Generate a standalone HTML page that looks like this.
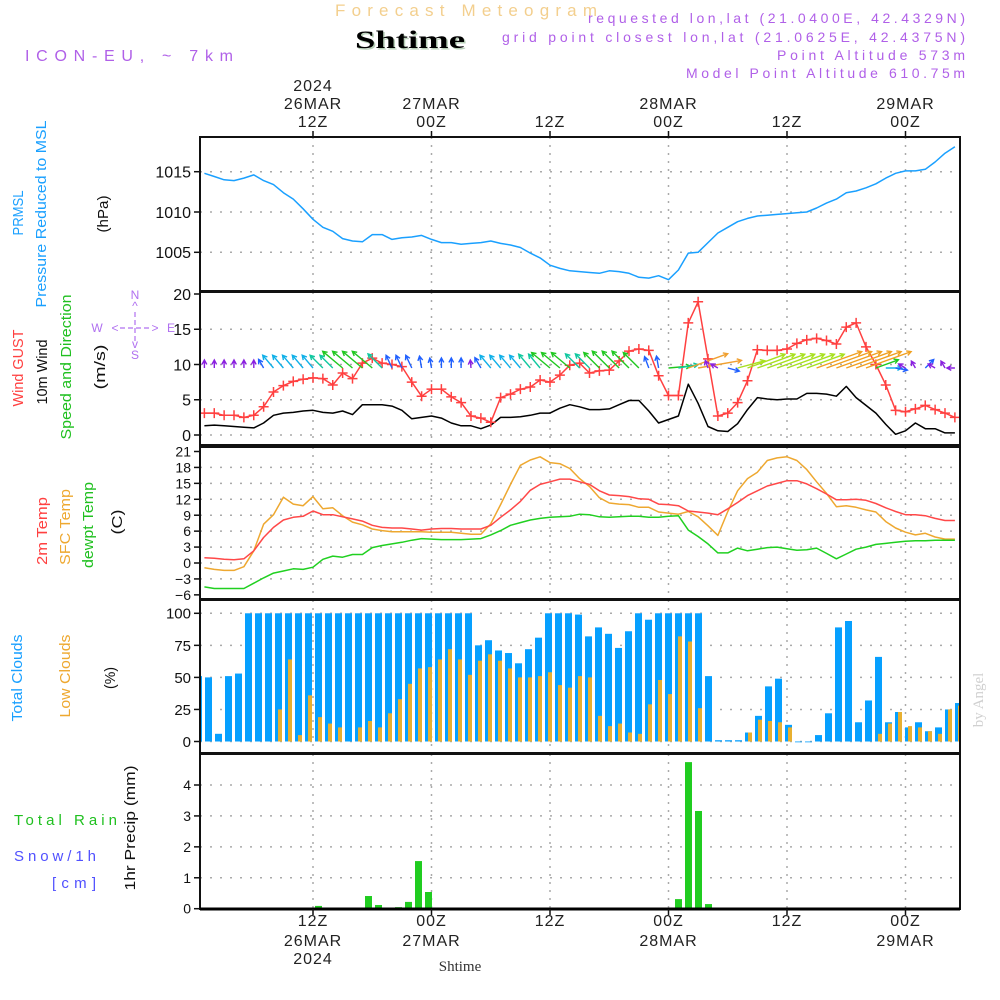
<!DOCTYPE html>
<html><head><meta charset="utf-8"><title>Forecast Meteogram - Shtime</title>
<style>
html,body{margin:0;padding:0;background:#fff;}
svg{display:block;font-family:"Liberation Sans",sans-serif;}
</style></head>
<body>
<svg id="chart" width="1000" height="1000" viewBox="0 0 1000 1000" xmlns="http://www.w3.org/2000/svg">
<rect x="0" y="0" width="1000" height="1000" fill="#fff"/>
<text x="335" y="16" font-size="17" fill="#f3cf8e" textLength="262" lengthAdjust="spacing">Forecast Meteogram</text>
<text x="355" y="48" font-size="25" font-weight="bold" font-family="Liberation Serif,serif" fill="#b8d0b8" textLength="110" lengthAdjust="spacingAndGlyphs" transform="translate(1.5,1.5)">Shtime</text>
<text x="355" y="48" font-size="25" font-weight="bold" font-family="Liberation Serif,serif" fill="#000" textLength="110" lengthAdjust="spacingAndGlyphs">Shtime</text>
<text x="25" y="61" font-size="16" fill="#b060e8" textLength="208" lengthAdjust="spacing">ICON-EU, ~ 7km</text>
<g font-size="14" fill="#b060e8" text-anchor="end">
<text x="965" y="23" textLength="377" lengthAdjust="spacing">requested lon,lat (21.0400E, 42.4329N)</text>
<text x="965" y="42" textLength="463" lengthAdjust="spacing">grid point closest lon,lat (21.0625E, 42.4375N)</text>
<text x="965" y="60" textLength="188" lengthAdjust="spacing">Point Altitude 573m</text>
<text x="965" y="78" textLength="279" lengthAdjust="spacing">Model Point Altitude 610.75m</text>
</g>
<text transform="translate(983,700) rotate(-90)" text-anchor="middle" font-size="15" font-family="Liberation Serif,serif" fill="#d0d0d0">by Angel</text>
<g id="grid"></g>
<g id="marks"></g>
<g id="frames"></g>
<g id="labels"></g>
</svg>
<script>
// ---------- data ----------
var hours = [];
for (var k = 1; k <= 77; k++) hours.push(k);
var pressure = [1014.8,1014.4,1014.0,1013.9,1014.2,1014.6,1013.9,1013.4,1012.4,1011.6,1010.4,1009.1,1008.1,1007.6,1006.7,1006.4,1006.3,1007.2,1007.2,1006.6,1006.8,1006.9,1007.1,1006.6,1006.2,1006.2,1006.0,1006.1,1006.2,1006.4,1006.1,1005.9,1005.6,1004.9,1004.3,1003.4,1003.0,1002.7,1002.6,1002.5,1002.4,1002.7,1002.6,1002.4,1001.9,1001.8,1002.1,1001.6,1002.8,1004.9,1005.0,1006.2,1007.4,1008.1,1008.8,1009.2,1009.5,1009.6,1009.7,1009.8,1009.9,1010.0,1010.5,1011.1,1011.6,1012.4,1012.6,1013.0,1013.5,1014.2,1014.8,1015.1,1015.1,1015.3,1016.2,1017.3,1018.1];
var gust = [3.1,3.1,2.8,2.8,2.5,2.8,4.0,6.1,7.0,7.6,7.9,8.1,8.0,7.1,8.8,8.0,10.2,10.9,10.2,10.0,9.7,7.5,5.5,6.5,6.5,5.4,4.6,2.7,2.4,1.8,5.3,5.8,6.5,6.8,7.8,7.5,8.5,9.9,10.2,8.8,9.1,9.2,10.5,11.9,12.2,12.0,8.4,5.6,5.6,15.9,18.9,10.8,2.7,3.1,4.6,7.7,12.1,12.0,12.0,12.2,13.0,13.5,13.7,13.4,12.9,15.3,15.9,12.5,10.0,7.1,3.5,3.3,3.7,4.2,3.6,3.1,2.5];
var wind10m = [1.3,1.4,1.3,1.2,1.1,1.0,1.7,2.8,3.1,3.2,3.4,3.5,3.2,3.1,3.4,2.9,4.3,4.3,4.3,4.1,3.5,2.3,2.5,2.7,2.4,1.7,1.3,1.3,0.9,1.4,2.5,2.5,2.6,2.8,3.1,3.1,3.8,4.3,4.0,3.6,3.6,3.7,4.3,4.9,4.9,3.4,1.7,2.2,2.7,7.2,4.5,1.2,0.6,0.5,1.6,3.6,5.3,5.1,5.0,5.1,5.1,5.9,5.9,5.8,5.5,6.9,5.3,4.2,3.1,1.5,0.1,0.6,1.7,0.9,0.9,0.3,0.3];
// arrow direction (degrees, 0 = pointing east, 90 = pointing north) and arrow length (m/s)
var windDir = [90,90,90,90,90,90,120,130,130,130,130,130,135,135,140,140,140,140,135,115,115,115,100,100,90,90,90,95,120,130,130,130,130,130,130,140,140,140,135,135,135,135,135,135,135,110,100,5,10,20,10,110,150,-15,15,20,20,20,20,20,20,20,20,20,20,20,20,20,20,0,-10,150,120,45,150,120,180];
var windLen = [1.3,1.3,1.3,1.3,1.3,1.3,2.5,4.2,4.2,4.2,4.2,4.2,4.5,4.5,6.5,6.5,6.5,6.5,5,3.5,3.5,3.5,3,2.5,2.5,2.5,2.5,1.5,3,4.2,4.2,4.2,4.2,4.5,4.5,6,6,6,5,5,5.5,6,6,6,5.5,3,3,5.5,5,10.5,11,1.5,1.5,3,7,10,10,10,10,10,10,10,12,12,12,12,12,12,6,4,3,1.5,1.5,3,1.5,1.5,1.5];
var temp2m = [1.0,0.9,0.7,0.6,0.8,2.3,4.8,6.7,8.1,8.6,8.8,9.8,9.1,9.1,8.7,8.3,7.9,7.1,6.7,6.6,6.6,6.4,6.2,6.4,6.5,6.5,6.4,6.4,6.4,7.1,8.6,10.0,11.6,13.7,14.8,15.3,15.8,15.8,15.3,14.8,13.6,12.8,12.7,12.5,12.1,12.0,11.1,11.0,10.8,9.8,9.6,9.4,9.1,10.2,11.4,12.7,13.6,14.5,15.0,15.5,15.5,14.9,14.0,13.0,11.9,11.9,12.0,11.8,11.2,10.4,9.7,9.1,9.1,8.9,8.4,8.0,8.0];
var tempSfc = [-0.9,-1.2,-1.4,-1.4,-0.7,2.3,7.3,9.1,12.4,11.1,10.8,12.5,10.2,10.4,8.9,7.7,7.2,6.4,6.1,5.9,5.9,5.9,5.9,5.8,5.8,5.8,5.6,5.4,5.4,7.4,11.0,14.8,18.4,19.4,20.0,18.9,18.7,17.8,15.9,14.4,12.3,11.3,11.1,11.0,10.5,10.5,9.6,9.4,9.2,9.7,8.7,7.0,5.2,9.7,13.6,15.9,17.1,19.3,19.8,20.0,19.3,17.6,15.3,13.1,10.6,10.8,10.5,10.0,9.6,7.8,6.6,5.8,5.3,5.6,4.9,4.5,4.5];
var dewpt = [-4.5,-4.8,-4.8,-4.8,-4.8,-3.8,-2.8,-1.9,-1.5,-1.1,-1.2,-0.8,0.7,1.3,1.1,1.6,1.6,2.9,3.3,3.6,3.9,4.3,4.6,4.5,4.4,4.4,4.4,4.5,4.6,5.3,6.1,7.1,7.6,8.1,8.4,8.6,8.7,8.8,9.2,9.1,8.7,8.6,8.7,8.8,8.8,8.6,8.6,8.8,8.9,6.2,5.0,3.6,1.9,1.9,2.8,2.3,2.6,2.9,3.0,2.7,2.4,2.5,2.8,1.8,0.8,1.7,2.6,3.0,3.5,3.7,3.9,4.1,4.2,4.2,4.3,4.3,4.3];
var totalClouds = [51,50,6,51,53,100,100,100,100,100,100,100,100,100,100,100,100,100,100,100,100,100,100,100,100,100,100,100,75,79,71,69,61,72,81,100,100,100,99,82,89,84,73,86,100,95,100,100,100,100,100,51,1,1,1,7,20,43,49,13,0,0,5,22,89,94,15,32,66,15,23,11,15,8,11,25,30];
var lowClouds = [0,0,0,0,0,0,0,0,25,64,5,36,19,14,11,0,11,16,11,22,33,45,57,58,64,72,64,52,63,68,63,57,50,50,51,54,44,42,51,50,20,12,14,7,6,29,48,37,82,78,26,0,0,0,0,7,17,16,15,11,0,0,0,0,0,0,0,0,6,14,23,12,11,8,6,25,28];
var precip = [0,0,0,0,0,0,0,0,0,0,0,0,0.09,0,0,0,0,0.41,0.12,0,0.05,0.22,1.54,0.54,0,0,0,0,0,0,0,0,0,0,0,0,0,0,0,0,0,0,0,0,0,0,0,0,0.31,4.74,3.16,0.15,0,0,0,0,0,0,0,0,0,0,0,0,0,0,0,0,0,0,0,0,0,0,0,0,0];
var pressTicks = [1005,1010,1015];
var windTicks = [0,5,10,15,20];
var tempTicks = [-6,-3,0,3,6,9,12,15,18,21];
var cloudTicks = [0,25,50,75,100];
var precipTicks = [0,1,2,3,4];
var timeTickHours = [12,24,36,48,60,72];
var topLabels = [["2024","26MAR","12Z"],["","27MAR","00Z"],["","","12Z"],["","28MAR","00Z"],["","","12Z"],["","29MAR","00Z"]];
var bottomLabels = [["12Z","26MAR","2024"],["00Z","27MAR",""],["12Z","",""],["00Z","28MAR",""],["12Z","",""],["00Z","29MAR",""]];

// ---------- scales ----------
var X0 = 200, X1 = 960;
function x(h){ return 313 + (h - 12) * 9.875; }
function xBar(i){ return 198.5 + i * 10; }
function lin(d0,d1,r0,r1){ return function(v){ return r0 + (v - d0) * (r1 - r0) / (d1 - d0); }; }
var yP = lin(1005,1015,252.3,171.7);
var yW = lin(0,20,435,294);
var yT = lin(0,21,563,451.5);
var yC = lin(0,100,741.5,613.3);
var yR = lin(0,4,908.7,785);
var panels = [[137,291],[292,445],[447,599],[600,753],[754,909]];

var NS = "http://www.w3.org/2000/svg";
function el(tag, attrs, parent){
  var e = document.createElementNS(NS, tag);
  for (var a in attrs) e.setAttribute(a, attrs[a]);
  parent.appendChild(e);
  return e;
}
var grid = document.getElementById('grid');
var marks = document.getElementById('marks');
var frames = document.getElementById('frames');
var labels = document.getElementById('labels');

var defs = el('defs', {}, document.getElementById('chart'));
var cp = el('clipPath', {id:'plotclip'}, defs);
el('rect', {x:X0, y:130, width:X1-X0, height:790}, cp);
marks.setAttribute('clip-path','url(#plotclip)');

// ---------- grids ----------
function hGrid(vals, yf, name){
  vals.forEach(function(v){
    var l = el('line', {x1:X0, x2:X1, y1:yf(v), y2:yf(v), stroke:'#aaa', 'stroke-width':1.5, 'stroke-dasharray':'2,8'}, grid);
    
    
  });
}
hGrid(pressTicks, yP, 'pressure');
hGrid([0,5,10,15], yW, 'wind');
hGrid(tempTicks.filter(function(v){return v>-6 && v<21;}), yT, 'temp');
hGrid([0,25,50,75,100], yC, 'cloud');
hGrid([1,2,3,4], yR, 'precip');
timeTickHours.forEach(function(h){
  panels.forEach(function(p){
    var l = el('line', {x1:x(h), x2:x(h), y1:p[0], y2:p[1], stroke:'#aaa', 'stroke-width':1.5, 'stroke-dasharray':'2,6'}, grid);
    
    
  });
});

// ---------- marks ----------
function poly(vals, yf, color, name, w){
  var pts = vals.map(function(v,i){ return x(hours[i]).toFixed(1) + ',' + yf(v).toFixed(1); }).join(' ');
  var p = el('polyline', {points:pts, fill:'none', stroke:color, 'stroke-width':w||1.5, 'stroke-linejoin':'round'}, marks);
  
  
}
poly(pressure, yP, '#1aa0ff', 'pressure-line');
poly(wind10m, yW, '#000', 'wind-speed-line');
poly(gust, yW, '#ff4040', 'wind-gust-line');
gust.forEach(function(v,i){
  var cx = x(hours[i]), cy = yW(v);
  var g = el('path', {d:'M'+(cx-5)+','+cy+'h10M'+cx+','+(cy-5)+'v10', stroke:'#ff4040', 'stroke-width':1.5}, marks);
  
  
});
function arrowColor(len){
  if (len < 2) return '#8a20e0';
  if (len < 3.6) return '#2060ff';
  if (len < 4.4) return '#10b0e8';
  if (len < 5.2) return '#10c8a0';
  if (len < 7) return '#20c820';
  if (len < 10.5) return '#a8e020';
  if (len < 11.5) return '#f0a030';
  return '#f0a020';
}
windDir.forEach(function(d,i){
  var bx = x(hours[i]), by = yW(9.5);
  var L = Math.max(8, windLen[i] * 4), a = d * Math.PI / 180;
  var tx = bx + L * Math.cos(a), ty = by - L * Math.sin(a);
  var hl = 5;
  var a1 = a + Math.PI - 0.5, a2 = a + Math.PI + 0.5;
  var c = arrowColor(windLen[i]);
  var p = el('path', {d:'M'+bx.toFixed(1)+','+by.toFixed(1)+'L'+tx.toFixed(1)+','+ty.toFixed(1)+
    'M'+(tx+hl*Math.cos(a1)).toFixed(1)+','+(ty-hl*Math.sin(a1)).toFixed(1)+'L'+tx.toFixed(1)+','+ty.toFixed(1)+
    'L'+(tx+hl*Math.cos(a2)).toFixed(1)+','+(ty-hl*Math.sin(a2)).toFixed(1), fill:'none', stroke:c, 'stroke-width':1.4}, marks);
  
  
});
poly(tempSfc, yT, '#eea830', 'sfc-temp-line');
poly(temp2m, yT, '#ff4848', 'temp-2m-line');
poly(dewpt, yT, '#20d020', 'dewpoint-line');
totalClouds.forEach(function(v,i){
  var r = el('rect', {x:xBar(i)-3.5, y:yC(v), width:7, height:Math.max(0.8, yC(0)-yC(v)), fill:'#06a0ff'}, marks);
  
  
});
lowClouds.forEach(function(v,i){
  if (v <= 0) return;
  var r = el('rect', {x:xBar(i)-0.5, y:yC(v), width:4, height:yC(0)-yC(v), fill:'#e8b030'}, marks);
  
  
});
precip.forEach(function(v,i){
  if (v <= 0) return;
  var r = el('rect', {x:xBar(i)-3.5, y:yR(v), width:7, height:yR(0)-yR(v), fill:'#20cc20'}, marks);
  
  
});

// ---------- frames & ticks ----------
panels.forEach(function(p){
  var r = el('rect', {x:X0, y:p[0], width:X1-X0, height:p[1]-p[0], fill:'none', stroke:'#111', 'stroke-width':2}, frames);
  
  
});
var bl = el('line', {x1:X0, x2:X1, y1:909, y2:909, stroke:'#000', 'stroke-width':3}, frames);


function yTicks(vals, yf, name, fs){
  vals.forEach(function(v){
    var t = el('line', {x1:194, x2:X0, y1:yf(v), y2:yf(v), stroke:'#111', 'stroke-width':1.5}, frames);
    
    
    var tx = el('text', {x:191, y:yf(v)+fs*0.36, 'text-anchor':'end', 'font-size':fs, fill:'#111'}, labels);
    tx.textContent = (v < 0 ? '\u2212' + (-v) : String(v));
    
    
  });
}
yTicks(pressTicks, yP, 'pressure', 16);
yTicks(windTicks, yW, 'wind', 16);
yTicks(tempTicks, yT, 'temp', 14);
yTicks(cloudTicks, yC, 'cloud', 15);
yTicks(precipTicks, yR, 'precip', 14);
timeTickHours.forEach(function(h,i){
  var t1 = el('line', {x1:x(h), x2:x(h), y1:131, y2:137, stroke:'#111', 'stroke-width':1.5}, frames);
  
  
  var t2 = el('line', {x1:x(h), x2:x(h), y1:909, y2:915, stroke:'#111', 'stroke-width':1.5}, frames);
  
  
  [91,109,127].forEach(function(yy,j){
    var s = topLabels[i][j]; if (!s) return;
    var tx = el('text', {x:x(h), y:yy, 'text-anchor':'middle', 'font-size':16, fill:'#222', 'letter-spacing':'1'}, labels);
    tx.textContent = s;
    
    
  });
  [926,946,964].forEach(function(yy,j){
    var s = bottomLabels[i][j]; if (!s) return;
    var tx = el('text', {x:x(h), y:yy, 'text-anchor':'middle', 'font-size':16, fill:'#222', 'letter-spacing':'1'}, labels);
    tx.textContent = s;
    
    
  });
});

// ---------- side labels ----------
function vlab(txt, cx, cy, color, len, name, fs){
  var t = el('text', {transform:'translate('+cx+','+cy+') rotate(-90)', 'text-anchor':'middle', 'font-size':fs||15, fill:color, textLength:len, lengthAdjust:'spacingAndGlyphs'}, labels);
  t.textContent = txt;
  
  
}
function hlab(txt, x0, y0, color, len, name, fs){
  var t = el('text', {x:x0, y:y0, 'font-size':fs||15, fill:color, textLength:len, lengthAdjust:'spacing'}, labels);
  t.textContent = txt;
  
  
}
vlab('PRMSL', 23, 213, '#1aa0ff', 45, 'prmsl-label');
vlab('Pressure Reduced to MSL', 46, 214, '#1aa0ff', 187, 'pressure-label');
vlab('(hPa)', 108, 214, '#111', 37, 'pressure-unit');
vlab('Wind GUST', 23, 368, '#ff4040', 77, 'gust-label');
vlab('10m Wind', 47, 372, '#111', 65, 'wind-label');
vlab('Speed and Direction', 71, 367, '#20c020', 145, 'wind-dir-label');
vlab('(m/s)', 105, 367, '#111', 45, 'wind-unit');
vlab('2m Temp', 47, 531, '#ff4040', 68, 'temp2m-label');
vlab('SFC Temp', 70, 527, '#eea830', 76, 'sfc-temp-label');
vlab('dewpt Temp', 93, 525, '#20c020', 86, 'dewpt-label');
vlab('(C)', 122, 522, '#111', 25, 'temp-unit');
vlab('Total Clouds', 22, 678, '#1aa0ff', 87, 'total-clouds-label');
vlab('Low Clouds', 70, 676, '#eea830', 83, 'low-clouds-label');
vlab('(%)', 115, 678, '#111', 22, 'cloud-unit');
vlab('1hr Precip (mm)', 135, 828, '#111', 125, 'precip-unit');
hlab('Total   Rain', 14, 825, '#20c020', 103, 'rain-label');
hlab('Snow/1h', 14, 861, '#5050ff', 82, 'snow-label');
hlab('[cm]', 52, 888, '#5050ff', 44, 'snow-unit');
var sh = el('text', {x:460, y:971, 'text-anchor':'middle', 'font-size':15, 'font-family':'Liberation Serif,serif', fill:'#333'}, labels);
sh.textContent = 'Shtime';



// compass
var cg = el('g', {fill:'#b070f0', 'font-size':12, 'text-anchor':'middle'}, labels);


[['N',135,299],['^',135,310],['v',135,348],['S',135,359],['W',97,332],['<',115,332],['>',155,332],['E',171,332]].forEach(function(c){
  var t = el('text', {x:c[1], y:c[2]}, cg);
  t.textContent = c[0];
});
el('path', {d:'M120,328h30M135,312v30', stroke:'#b070f0', 'stroke-width':1.2, 'stroke-dasharray':'5,3', fill:'none'}, cg);
</script>
</body></html>
